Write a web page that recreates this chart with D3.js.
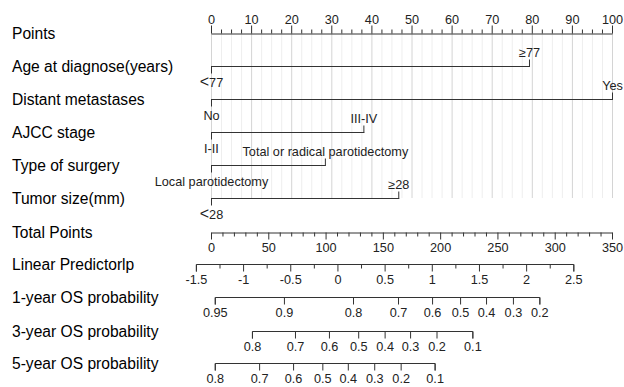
<!DOCTYPE html>
<html>
<head>
<meta charset="utf-8">
<script src="https://cdn.jsdelivr.net/npm/d3@7"></script>
<style>
  html, body { margin: 0; padding: 0; background: #fff; }
  svg text { font-family: "Liberation Sans", Arial, sans-serif; }
</style>
</head>
<body>
<div id="chart"></div>
<script>
// nomograma: puntos por variable, puntos totales, lp y supervivencia
const pointsTicks = d3.range(0, 101, 10);
const pointsMinor = d3.range(0, 100.1, 2.5);

const variableNames = ['Age at diagnose(years)', 'Distant metastases', 'AJCC stage', 'Type of surgery', 'Tumor size(mm)'];
const ageLevels = ['<77', '≥77'];
const agePoints = [0, 79.3];
const metLevels = ['No', 'Yes'];
const metPoints = [0, 100];
const stageLevels = ['I-II', 'III-IV'];
const stagePoints = [0, 38];
const surgeryLevels = ['Local parotidectomy', 'Total or radical parotidectomy'];
const surgeryPoints = [0, 28.4];
const tumorLevels = ['<28', '≥28'];
const tumorPoints = [0, 46.7];

const totalTicks = d3.range(0, 351, 50);
const totalMinor = d3.range(0, 351, 10);

// lp correspondiente a 0 y 350 puntos totales
const lpAtTotal = [-1.34, 2.91];
const lpTicks = [-1.5, -1, -0.5, 0, 0.5, 1, 1.5, 2, 2.5];
const lpMinor = d3.range(-1.5, 2.51, 0.25);

const os1Labels = ['0.95', '0.9', '0.8', '0.7', '0.6', '0.5', '0.4', '0.3', '0.2'];
const os1Lp = [-1.30, -0.567, 0.165, 0.642, 1.003, 1.30, 1.575, 1.86, 2.14];
const os3Labels = ['0.8', '0.7', '0.6', '0.5', '0.4', '0.3', '0.2', '0.1'];
const os3Lp = [-0.906, -0.45, -0.09, 0.22, 0.50, 0.77, 1.05, 1.43];
const os5Labels = ['0.8', '0.7', '0.6', '0.5', '0.4', '0.3', '0.2', '0.1'];
const os5Lp = [-1.30, -0.83, -0.47, -0.16, 0.11, 0.39, 0.67, 1.03];

const width = 624, height = 387;
const x0 = 211, x1 = 612;
const labelX = 12;
const rowY = { points: 33, age: 66, met: 99, stage: 132, surgery: 165, tumor: 198, total: 232, lp: 264, os1: 297, os3: 331, os5: 363 };

const lineColor = '#333';
const tickTextColor = '#222';
const rowTextColor = '#000';
const tickFont = '12.7px';

const xPoints = d3.scaleLinear().domain([0, 100]).range([x0, x1]);
const xTotal = d3.scaleLinear().domain([0, 350]).range([x0, x1]);
const xLp = d3.scaleLinear().domain(lpAtTotal).range([x0, x1]);

const svg = d3.select('#chart').append('svg')
  .attr('width', width)
  .attr('height', height)
  .attr('viewBox', [0, 0, width, height]);

// --- Rejilla vertical ---
svg.append('g')
  .selectAll('line')
  .data(pointsMinor)
  .join('line')
  .attr('x1', d => xPoints(d) + 0.5)
  .attr('x2', d => xPoints(d) + 0.5)
  .attr('y1', rowY.points)
  .attr('y2', rowY.tumor)
  .attr('stroke', d => d % 10 === 0 ? '#d4d4d4' : '#eeeeee')
  .attr('stroke-width', 1);

// --- Etiquetas de filas ---
const rows = [
  ['Points', rowY.points],
  [variableNames[0], rowY.age],
  [variableNames[1], rowY.met],
  [variableNames[2], rowY.stage],
  [variableNames[3], rowY.surgery],
  [variableNames[4], rowY.tumor],
  ['Total Points', rowY.total],
  ['Linear Predictorlp', rowY.lp],
  ['1-year OS probability', rowY.os1],
  ['3-year OS probability', rowY.os3],
  ['5-year OS probability', rowY.os5]
];
svg.append('g')
  .selectAll('text')
  .data(rows)
  .join('text')
  .attr('x', labelX)
  .attr('y', d => d[1] + 1)
  .attr('dy', '0.35em')
  .attr('font-size', '15.6px')
  .attr('fill', rowTextColor)
  .text(d => d[0]);

// --- Eje de puntos (marcas hacia arriba) ---
const pointsG = svg.append('g').attr('transform', `translate(0,${rowY.points + 0.5})`);
pointsG.call(d3.axisTop(xPoints).tickValues(pointsTicks).tickSize(8).tickPadding(2).tickSizeOuter(0));
pointsG.append('g').selectAll('line')
  .data(pointsMinor.filter(d => d % 10 !== 0))
  .join('line')
  .attr('x1', d => xPoints(d) + 0.5).attr('x2', d => xPoints(d) + 0.5)
  .attr('y1', 0).attr('y2', -4)
  .attr('stroke', lineColor);

// --- Ejes categóricos ---
function drawFactor(levels, pts, y) {
  const g = svg.append('g').attr('transform', `translate(0,${y + 0.5})`);
  g.append('line')
    .attr('x1', xPoints(d3.min(pts)))
    .attr('x2', xPoints(d3.max(pts)) + 1)
    .attr('y1', 0).attr('y2', 0)
    .attr('stroke', lineColor);
  const items = levels.map((l, i) => ({ label: l, p: pts[i], up: i % 2 === 1 }));
  g.selectAll('line.tk')
    .data(items)
    .join('line')
    .attr('class', 'tk')
    .attr('x1', d => xPoints(d.p) + 0.5).attr('x2', d => xPoints(d.p) + 0.5)
    .attr('y1', 0).attr('y2', d => d.up ? -7 : 7)
    .attr('stroke', lineColor);
  const t = g.selectAll('text')
    .data(items)
    .join('text')
    .attr('x', d => xPoints(d.p) + 0.5)
    .attr('y', d => d.up ? -14 : 16)
    .attr('dy', '0.35em')
    .attr('text-anchor', 'middle')
    .attr('font-size', tickFont)
    .attr('fill', tickTextColor);
  // el signo "<" se ve más ancho en el original
  t.each(function(d) {
    const el = d3.select(this);
    if (d.label.startsWith('<')) {
      el.append('tspan').attr('font-size', '16px').text('<');
      el.append('tspan').text(d.label.slice(1));
    } else {
      el.text(d.label);
    }
  });
}
drawFactor(ageLevels, agePoints, rowY.age);
drawFactor(metLevels, metPoints, rowY.met);
drawFactor(stageLevels, stagePoints, rowY.stage);
drawFactor(surgeryLevels, surgeryPoints, rowY.surgery);
drawFactor(tumorLevels, tumorPoints, rowY.tumor);

// --- Puntos totales (marcas hacia abajo) ---
const totalG = svg.append('g').attr('transform', `translate(0,${rowY.total + 0.5})`);
totalG.call(d3.axisBottom(xTotal).tickValues(totalTicks).tickSize(7).tickPadding(3).tickSizeOuter(0));
totalG.append('g').selectAll('line')
  .data(totalMinor.filter(d => d % 50 !== 0))
  .join('line')
  .attr('x1', d => xTotal(d) + 0.5).attr('x2', d => xTotal(d) + 0.5)
  .attr('y1', 0).attr('y2', 4)
  .attr('stroke', lineColor);

// --- Predictor lineal ---
const lpG = svg.append('g').attr('transform', `translate(0,${rowY.lp + 0.5})`);
lpG.call(d3.axisBottom(xLp).tickValues(lpTicks).tickSize(7).tickPadding(3).tickSizeOuter(0)
  .tickFormat(d => String(d)));
lpG.select('.domain').attr('d', `M${xLp(d3.min(lpTicks)) + 0.5},7V0H${xLp(d3.max(lpTicks)) + 0.5}V7`);
lpG.append('g').selectAll('line')
  .data(lpMinor.filter(d => Math.abs(d * 2 - Math.round(d * 2)) > 1e-6))
  .join('line')
  .attr('x1', d => xLp(d) + 0.5).attr('x2', d => xLp(d) + 0.5)
  .attr('y1', 0).attr('y2', 4)
  .attr('stroke', lineColor);

// --- Probabilidades de supervivencia ---
function drawSurv(labels, lps, y) {
  const g = svg.append('g').attr('transform', `translate(0,${y + 0.5})`);
  g.call(d3.axisBottom(xLp).tickValues(lps).tickSize(7).tickPadding(3).tickSizeOuter(0)
    .tickFormat((d, i) => labels[i]));
  g.select('.domain').attr('d', `M${xLp(d3.min(lps)) + 0.5},7V0H${xLp(d3.max(lps)) + 0.5}V7`);
}
drawSurv(os1Labels, os1Lp, rowY.os1);
drawSurv(os3Labels, os3Lp, rowY.os3);
drawSurv(os5Labels, os5Lp, rowY.os5);

// estilo común de ejes
svg.selectAll('.domain').attr('stroke', lineColor);
svg.selectAll('.tick line').attr('stroke', lineColor);
svg.selectAll('.tick text')
  .attr('font-size', tickFont)
  .attr('font-family', '"Liberation Sans", Arial, sans-serif')
  .attr('fill', tickTextColor);
</script>
</body>
</html>
